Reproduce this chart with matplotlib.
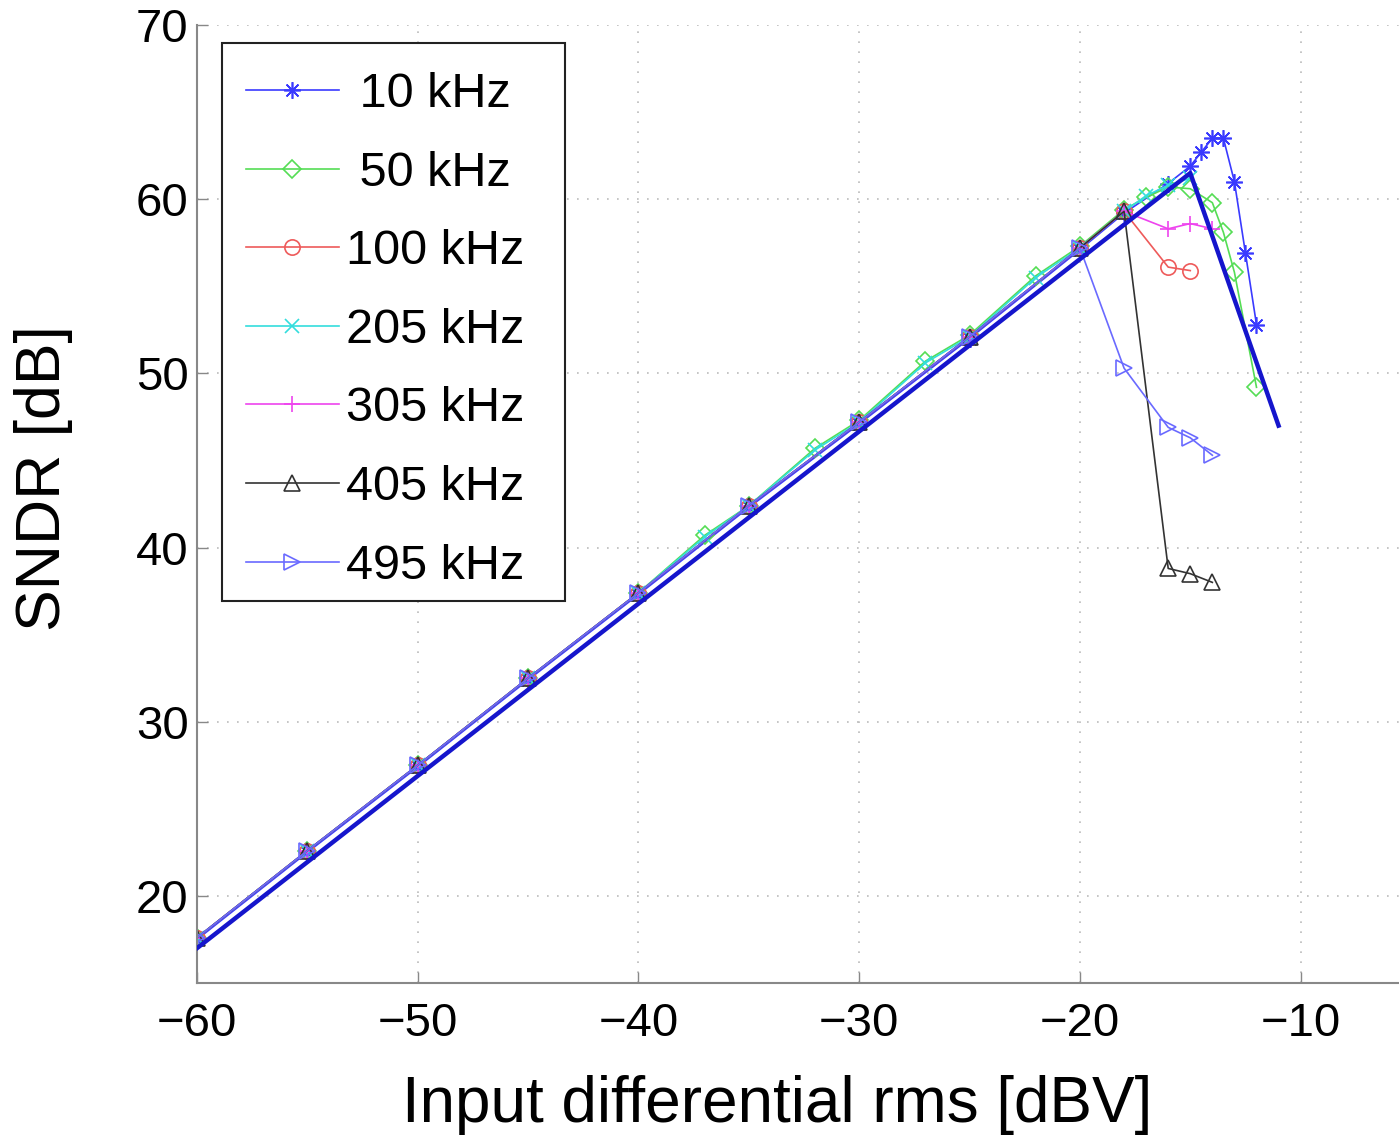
import numpy as np
import matplotlib
matplotlib.use('Agg')
import matplotlib.pyplot as plt
from matplotlib.patches import Rectangle

plt.rcParams['font.family'] = ['Liberation Sans', 'DejaVu Sans']

# ---------------------------------------------------------------
# data (input level [dBV] -> SNDR [dB])
# ---------------------------------------------------------------
x_10k = [-60, -55, -50, -45, -40, -35, -30, -25, -20, -18, -16, -15, -14.5, -14, -13.5, -13, -12.5, -12]
y_10k = [17.5, 22.5, 27.4, 32.4, 37.3, 42.3, 47.1, 52.0, 57.1, 59.2, 60.9, 61.9, 62.7, 63.5, 63.5, 61.0, 56.9, 52.8]

x_50k = [-60, -55, -50, -45, -40, -37, -35, -32, -30, -27, -25, -22, -20, -18, -17, -16, -15, -14, -13.5, -13, -12]
y_50k = [17.6, 22.6, 27.5, 32.5, 37.4, 40.7, 42.4, 45.7, 47.3, 50.7, 52.2, 55.6, 57.3, 59.4, 60.1, 60.7, 60.6, 59.8, 58.1, 55.8, 49.2]

x_100k = [-60, -55, -50, -45, -40, -35, -30, -25, -20, -18, -16, -15]
y_100k = [17.6, 22.6, 27.5, 32.5, 37.4, 42.4, 47.2, 52.1, 57.2, 59.3, 56.1, 55.9]

x_205k = [-60, -55, -50, -45, -40, -37, -35, -32, -30, -27, -25, -22, -20, -18, -17, -16, -15]
y_205k = [17.6, 22.6, 27.5, 32.5, 37.4, 40.6, 42.4, 45.6, 47.2, 50.6, 52.1, 55.5, 57.2, 59.3, 60.2, 60.8, 61.2]

x_305k = [-60, -55, -50, -45, -40, -35, -30, -25, -20, -18, -16, -15, -14]
y_305k = [17.6, 22.6, 27.5, 32.5, 37.4, 42.4, 47.2, 52.1, 57.2, 59.3, 58.3, 58.6, 58.3]

x_405k = [-60, -55, -50, -45, -40, -35, -30, -25, -20, -18, -16, -15, -14]
y_405k = [17.6, 22.6, 27.5, 32.5, 37.4, 42.4, 47.2, 52.1, 57.2, 59.3, 38.8, 38.5, 38.0]

x_495k = [-60, -55, -50, -45, -40, -35, -30, -25, -20, -18, -16, -15, -14]
y_495k = [17.6, 22.6, 27.5, 32.5, 37.4, 42.4, 47.2, 52.1, 57.2, 50.3, 46.9, 46.3, 45.3]

# thick reference curve (no legend entry)
x_ideal = [-60, -15, -11]
y_ideal = [17.0, 61.5, 47.0]

labels = [' 10 kHz', ' 50 kHz', '100 kHz', '205 kHz', '305 kHz', '405 kHz', '495 kHz']

xticks = [-60, -50, -40, -30, -20, -10]
yticks = [20, 30, 40, 50, 60, 70]

# ---------------------------------------------------------------
W, H = 1399, 1137
fig = plt.figure(figsize=(W / 100, H / 100), dpi=100)
ax = fig.add_axes([197 / W, 1 - 983 / H, 1214 / W, 958 / H])

series = [
    (x_10k, y_10k, '#3a3aff', (8, 2, 0), 12),
    (x_50k, y_50k, '#55dd55', 'D', 9),
    (x_100k, y_100k, '#ee5a5a', 'o', 11),
    (x_205k, y_205k, '#33dddd', 'x', 10),
    (x_305k, y_305k, '#ee44ee', '+', 12),
    (x_405k, y_405k, '#333333', '^', 11),
    (x_495k, y_495k, '#6a6aff', '>', 11),
]
handles = []
for (xs, ys, col, mk, ms), lab in zip(series, labels):
    h, = ax.plot(xs, ys, color=col, lw=1.2, marker=mk, markersize=ms,
                 markerfacecolor='none', markeredgecolor=col, markeredgewidth=1.2,
                 label=lab)
    handles.append(h)

ax.plot(x_ideal, y_ideal, color='#1515cc', lw=3.2, zorder=5)

ax.set_xlim(-60, -5)
ax.set_ylim(15, 70)
ax.set_xticks(xticks)
ax.set_yticks(yticks)
ax.tick_params(direction='in', length=8, width=1, color='#888888', labelsize=34)
ax.tick_params(axis='x', pad=14)
ax.tick_params(axis='y', pad=6)
ax.grid(True, linestyle=(0, (1, 5)), color='#bbbbbb', linewidth=1.2)
ax.set_axisbelow(True)
for s in ['top', 'right']:
    ax.spines[s].set_visible(False)
for s in ['left', 'bottom']:
    ax.spines[s].set_color('#888888')
    ax.spines[s].set_linewidth(1.5)

fig.text(777 / W, 1 - 1122 / H, 'Input differential rms [dBV]', fontsize=46,
         ha='center', va='baseline')
fig.text(44 / W, 1 - 478 / H, 'SNDR [dB]', fontsize=45, rotation=90,
         ha='center', va='center')

leg = fig.legend(handles=handles, loc='upper left',
                 bbox_to_anchor=(222 / W, 1 - 48 / H), frameon=False,
                 fontsize=35, handlelength=1.9, handletextpad=0.15,
                 labelspacing=0.69, borderpad=0.0)
fig.patches.append(Rectangle((222 / W, 1 - 601 / H), 343 / W, 558 / H,
                             transform=fig.transFigure, fill=True,
                             facecolor='white', edgecolor='#222222', lw=1.5,
                             zorder=0))

fig.savefig('out.png', dpi=100)
